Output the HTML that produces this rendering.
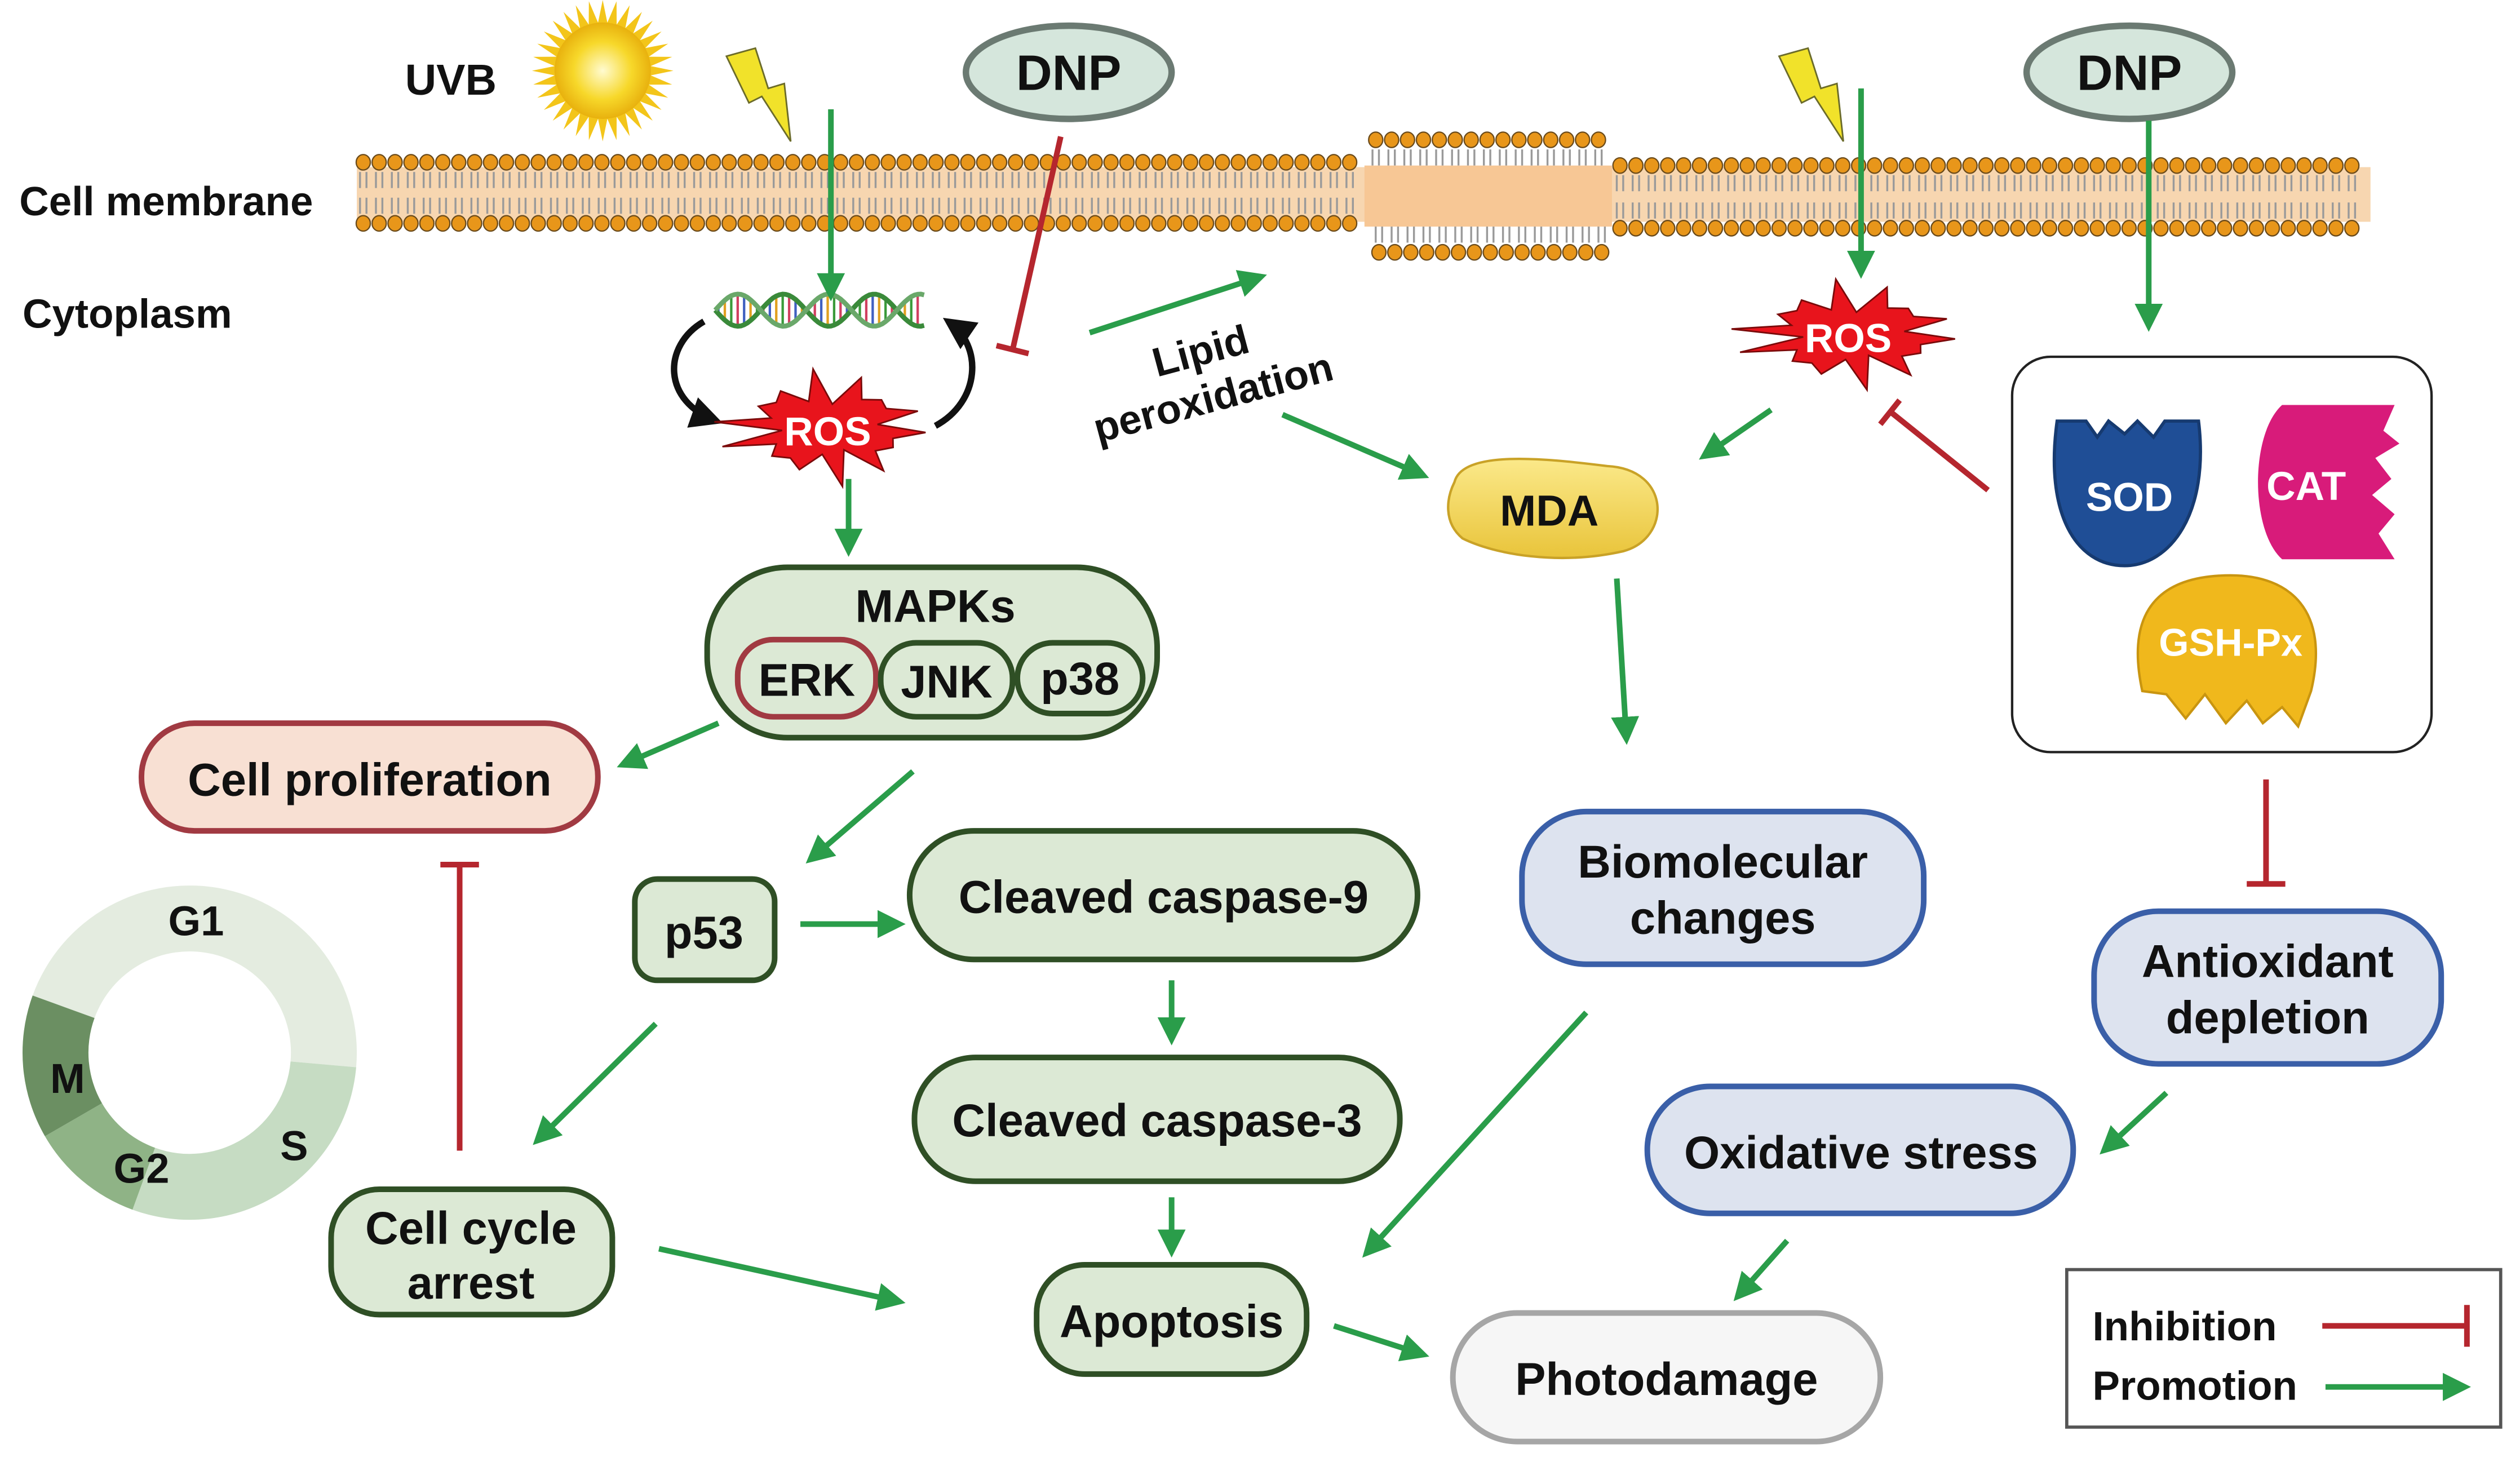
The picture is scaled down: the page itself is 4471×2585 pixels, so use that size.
<!DOCTYPE html>
<html><head><meta charset="utf-8">
<style>
html,body{margin:0;padding:0;background:#fff;}
svg{display:block;}
text{font-family:"Liberation Sans",Arial,sans-serif;font-weight:bold;}
</style></head>
<body>
<svg id="s" width="4471" height="2585" viewBox="0 0 1568 906.6" xmlns="http://www.w3.org/2000/svg">
<defs>
<marker id="ga" viewBox="0 0 10 10" refX="8" refY="5" markerWidth="5" markerHeight="5" orient="auto-start-reverse"><path d="M0,0 L10,5 L0,10 z" fill="#2a9d4a"/></marker>
<marker id="ka" viewBox="0 0 10 10" refX="8" refY="5" markerWidth="5" markerHeight="5" orient="auto"><path d="M0,0 L10,5 L0,10 z" fill="#111"/></marker>
<radialGradient id="sun"><stop offset="0" stop-color="#fffbd0"/><stop offset="0.6" stop-color="#f7d82a"/><stop offset="1" stop-color="#e8b10e"/></radialGradient>
<linearGradient id="mda" x1="0" y1="0" x2="0" y2="1"><stop offset="0" stop-color="#fbe98a"/><stop offset="1" stop-color="#e9c43a"/></linearGradient>
</defs>
<g id="mem"></g>
<rect x="1286" y="790" width="270" height="98" fill="#fff" stroke="#555" stroke-width="2"/>
<!-- labels -->
<text x="252" y="59" font-size="27" fill="#111">UVB</text>
<text x="12" y="134" font-size="25.5" fill="#111">Cell membrane</text>
<text x="14" y="204" font-size="25.5" fill="#111">Cytoplasm</text>
<g id="sunG"></g>
<!-- lightning -->
<path d="M452,35 L470,30 L478,55 L488,52 L492,88 L474,60 L466,64 Z" fill="#f1e22a" stroke="#6b6b2a" stroke-width="1"/>
<path d="M1107,35 L1125,30 L1133,55 L1143,52 L1147,88 L1129,60 L1121,64 Z" fill="#f1e22a" stroke="#6b6b2a" stroke-width="1"/>
<!-- DNP -->
<ellipse cx="665" cy="45" rx="64" ry="29" fill="#d5e6dc" stroke="#6b7a72" stroke-width="4"/>
<text x="665" y="56" font-size="31" text-anchor="middle" fill="#111">DNP</text>
<ellipse cx="1325" cy="45" rx="64" ry="29" fill="#d5e6dc" stroke="#6b7a72" stroke-width="4"/>
<text x="1325" y="56" font-size="31" text-anchor="middle" fill="#111">DNP</text>
<!-- DNA -->
<g id="dna"></g>
<!-- curved arrows -->
<path d="M438,200 C412,215 412,250 446,262" fill="none" stroke="#111" stroke-width="4" marker-end="url(#ka)"/>
<path d="M582,265 C610,250 612,215 590,200" fill="none" stroke="#111" stroke-width="4" marker-end="url(#ka)"/>
<g id="stars"></g>
<text x="515" y="277" font-size="25" text-anchor="middle" fill="#fff">ROS</text>
<text x="1150" y="219" font-size="25" text-anchor="middle" fill="#fff">ROS</text>
<!-- green arrows -->
<g stroke="#2a9d4a" stroke-width="3.5" fill="none" marker-end="url(#ga)">
<line x1="517" y1="68" x2="517" y2="184"/>
<line x1="528" y1="298" x2="528" y2="343"/>
<line x1="678" y1="207" x2="785" y2="172"/>
<line x1="798" y1="258" x2="886" y2="296"/>
<line x1="1158" y1="55" x2="1158" y2="170"/>
<line x1="1337" y1="75" x2="1337" y2="203"/>
<line x1="1102" y1="255" x2="1060" y2="284"/>
<line x1="1006" y1="360" x2="1012" y2="460"/>
<line x1="447" y1="450" x2="387" y2="476"/>
<line x1="568" y1="480" x2="504" y2="535"/>
<line x1="498" y1="575" x2="560" y2="575"/>
<line x1="729" y1="610" x2="729" y2="647"/>
<line x1="729" y1="745" x2="729" y2="779"/>
<line x1="408" y1="637" x2="334" y2="710"/>
<line x1="410" y1="777" x2="560" y2="810"/>
<line x1="830" y1="825" x2="886" y2="843"/>
<line x1="987" y1="630" x2="850" y2="780"/>
<line x1="1348" y1="680" x2="1309" y2="716"/>
<line x1="1112" y1="772" x2="1081" y2="807"/>
<line x1="1447" y1="863" x2="1534" y2="863"/>
</g>
<!-- red inhibitions -->
<g stroke="#b5262e" stroke-width="3.5" fill="none">
<line x1="660" y1="85" x2="630" y2="218"/><line x1="620" y1="215" x2="640" y2="220"/>
<line x1="1237" y1="305" x2="1176" y2="256"/><line x1="1170" y1="264" x2="1182" y2="249"/>
<line x1="286" y1="716" x2="286" y2="538"/><line x1="274" y1="538" x2="298" y2="538"/>
<line x1="1410" y1="485" x2="1410" y2="550"/><line x1="1398" y1="550" x2="1422" y2="550"/>
<line x1="1445" y1="825" x2="1535" y2="825"/><line x1="1535" y1="812" x2="1535" y2="838"/>
</g>
<text transform="translate(755,248) rotate(-15)" font-size="25.5" text-anchor="middle" fill="#111"><tspan x="0" y="-22">Lipid</tspan><tspan x="0" y="8">peroxidation</tspan></text>
<!-- MDA -->
<path d="M905,300 C910,280 960,285 1000,290 C1040,292 1040,335 1010,343 C970,352 930,345 910,335 C898,325 900,310 905,300 Z" fill="url(#mda)" stroke="#c9a227" stroke-width="1.5"/>
<text x="964" y="327" font-size="27" text-anchor="middle" fill="#111">MDA</text>
<!-- enzyme box -->
<rect x="1252" y="222" width="261" height="246" rx="24" fill="#fff" stroke="#222" stroke-width="1.5"/>
<path d="M1280,262 L1298,262 L1305,272 L1312,262 L1322,270 L1330,262 L1340,272 L1347,262 L1368,262 C1375,320 1350,352 1322,352 C1292,352 1272,320 1280,262 Z" fill="#1f4e96" stroke="#163a70" stroke-width="2"/>
<text x="1325" y="318" font-size="25" text-anchor="middle" fill="#fff">SOD</text>
<path d="M1420,252 L1490,252 L1483,268 L1493,276 L1478,285 L1488,298 L1476,308 L1490,320 L1480,332 L1490,348 L1420,348 C1400,330 1400,270 1420,252 Z" fill="#d81b7a"/>
<text x="1435" y="311" font-size="25" text-anchor="middle" fill="#fff">CAT</text>
<path d="M1333,430 C1320,370 1355,358 1388,358 C1425,358 1450,380 1438,430 L1430,452 L1420,440 L1408,450 L1398,436 L1385,450 L1372,432 L1360,447 L1348,432 Z" fill="#f0b81c" stroke="#c99510" stroke-width="1.5"/>
<text x="1388" y="408" font-size="24" text-anchor="middle" fill="#fff">GSH-Px</text>
<!-- nodes -->
<g stroke-width="3.5">
<rect x="440" y="353" width="280" height="106" rx="50" fill="#dce9d5" stroke="#2f4f25"/>
<rect x="459" y="398" width="86" height="48" rx="22" fill="#dce9d5" stroke="#a13a42"/>
<rect x="548" y="400" width="82" height="46" rx="22" fill="#dce9d5" stroke="#2f4f25"/>
<rect x="633" y="400" width="78" height="44" rx="22" fill="#dce9d5" stroke="#2f4f25"/>
<rect x="88" y="450" width="284" height="67" rx="33" fill="#f8e0d3" stroke="#a13a42"/>
<rect x="395" y="547" width="87" height="63" rx="14" fill="#dce9d5" stroke="#2f4f25"/>
<rect x="566" y="517" width="316" height="80" rx="40" fill="#dce9d5" stroke="#2f4f25"/>
<rect x="569" y="658" width="302" height="77" rx="38" fill="#dce9d5" stroke="#2f4f25"/>
<rect x="645" y="787" width="168" height="68" rx="30" fill="#dce9d5" stroke="#2f4f25"/>
<rect x="206" y="740" width="175" height="78" rx="30" fill="#dce9d5" stroke="#2f4f25"/>
<rect x="904" y="817" width="266" height="80" rx="40" fill="#f6f6f6" stroke="#a6a6a6"/>
<rect x="947" y="505" width="250" height="95" rx="40" fill="#dde3ef" stroke="#3a5fa8"/>
<rect x="1303" y="567" width="216" height="95" rx="40" fill="#dde3ef" stroke="#3a5fa8"/>
<rect x="1025" y="676" width="265" height="79" rx="39" fill="#dde3ef" stroke="#3a5fa8"/>
</g>
<g font-size="28.5" fill="#111" text-anchor="middle">
<text x="582" y="387">MAPKs</text>
<text x="502" y="433">ERK</text>
<text x="589" y="434">JNK</text>
<text x="672" y="432">p38</text>
<text x="230" y="495">Cell proliferation</text>
<text x="438" y="590">p53</text>
<text x="724" y="568">Cleaved caspase-9</text>
<text x="720" y="707">Cleaved caspase-3</text>
<text x="729" y="832">Apoptosis</text>
<text x="293" y="774">Cell cycle</text>
<text x="293" y="808">arrest</text>
<text x="1037" y="868">Photodamage</text>
<text x="1072" y="546">Biomolecular</text>
<text x="1072" y="581">changes</text>
<text x="1411" y="608">Antioxidant</text>
<text x="1411" y="643">depletion</text>
<text x="1158" y="727">Oxidative stress</text>
</g>
<text x="1302" y="834" font-size="25.5" fill="#111">Inhibition</text>
<text x="1302" y="871" font-size="25.5" fill="#111">Promotion</text>
<!-- cell cycle donut -->
<g id="donut"></g>
<g font-size="26" fill="#111" text-anchor="middle">
<text x="122" y="582">G1</text>
<text x="183" y="722">S</text>
<text x="88" y="736">G2</text>
<text x="42" y="680">M</text>
</g>
<script>
var NS="http://www.w3.org/2000/svg";
function el(p,t,a){var e=document.createElementNS(NS,t);for(var k in a)e.setAttribute(k,a[k]);p.appendChild(e);return e;}
var mem=document.getElementById('mem');
el(mem,'rect',{x:222,y:104,width:1253,height:34,fill:'#f7d6b0'});
el(mem,'rect',{x:849,y:103,width:154,height:38,fill:'#f7c795'});
function row(x0,x1,y,dir){for(var x=x0;x<=x1;x+=9.9){
 var ty=y+dir*6; el(mem,'path',{d:'M'+(x-2)+','+(ty+dir*10)+' L'+(x-2)+','+ty+' M'+(x+2)+','+(ty+dir*10)+' L'+(x+2)+','+ty,stroke:'#9a9a9a','stroke-width':1.2,fill:'none'});
 el(mem,'ellipse',{cx:x,cy:y,rx:4.4,ry:4.8,fill:'#e8961a',stroke:'#6a4a1a','stroke-width':0.8});}}
row(226,845,101,1);row(226,845,139,-1);row(1008,1472,103,1);row(1008,1472,142,-1);
row(856,998,87,1);row(858,1000,157,-1);
var sg=document.getElementById('sunG');var pts=[];
for(var i=0;i<64;i++){var a=i*Math.PI/32,r=(i%2?30:44);pts.push((375+r*Math.cos(a)).toFixed(1)+','+(44+r*Math.sin(a)).toFixed(1));}
el(sg,'polygon',{points:pts.join(' '),fill:'#f3c51a'});
el(sg,'circle',{cx:375,cy:44,r:30,fill:'url(#sun)'});
var st=document.getElementById('stars');
function star(cx,cy,rx,ry,n){var p=[];for(var i=0;i<2*n;i++){var a=i*Math.PI/n+0.1,f=(i%2?0.6:1)*(0.9+0.2*Math.sin(i*2.3));p.push((cx+rx*f*Math.cos(a)).toFixed(1)+','+(cy+ry*f*Math.sin(a)).toFixed(1));}
el(st,'polygon',{points:p.join(' '),fill:'#e8141c',stroke:'#7a0a0a','stroke-width':1});}
star(515,266,68,34,14);star(1152,208,72,32,14);
var d=document.getElementById('dna');var a1='',a2='';
for(var x=445;x<=575;x+=2){var y1=193+10*Math.sin((x-445)/9),y2=193-10*Math.sin((x-445)/9);a1+=(a1?' L':'M')+x+','+y1.toFixed(1);a2+=(a2?' L':'M')+x+','+y2.toFixed(1);}
for(var x=447;x<=573;x+=4){var y1=193+10*Math.sin((x-445)/9),y2=193-10*Math.sin((x-445)/9);el(d,'line',{x1:x,y1:y1,x2:x,y2:y2,stroke:['#e0a020','#3a9a3a','#d04060','#4060c0'][(x/4|0)%4],'stroke-width':1.5});}
el(d,'path',{d:a1,stroke:'#3a8a3a','stroke-width':3,fill:'none'});el(d,'path',{d:a2,stroke:'#6aa86a','stroke-width':3,fill:'none'});
var dn=document.getElementById('donut');
function arc(a0,a1,c){var R=104,r=63,cx=118,cy=655,t=Math.PI/180;
var p='M'+(cx+R*Math.cos(a0*t))+','+(cy+R*Math.sin(a0*t))+' A'+R+','+R+' 0 '+((a1-a0)>180?1:0)+' 1 '+(cx+R*Math.cos(a1*t))+','+(cy+R*Math.sin(a1*t))+' L'+(cx+r*Math.cos(a1*t))+','+(cy+r*Math.sin(a1*t))+' A'+r+','+r+' 0 '+((a1-a0)>180?1:0)+' 0 '+(cx+r*Math.cos(a0*t))+','+(cy+r*Math.sin(a0*t))+' Z';
el(dn,'path',{d:p,fill:c});}
arc(200,365,'#e4ece0');arc(5,110,'#c6dcc3');arc(110,150,'#8fb386');arc(150,200,'#6b8f62');
</script>
</svg>
</body></html>
